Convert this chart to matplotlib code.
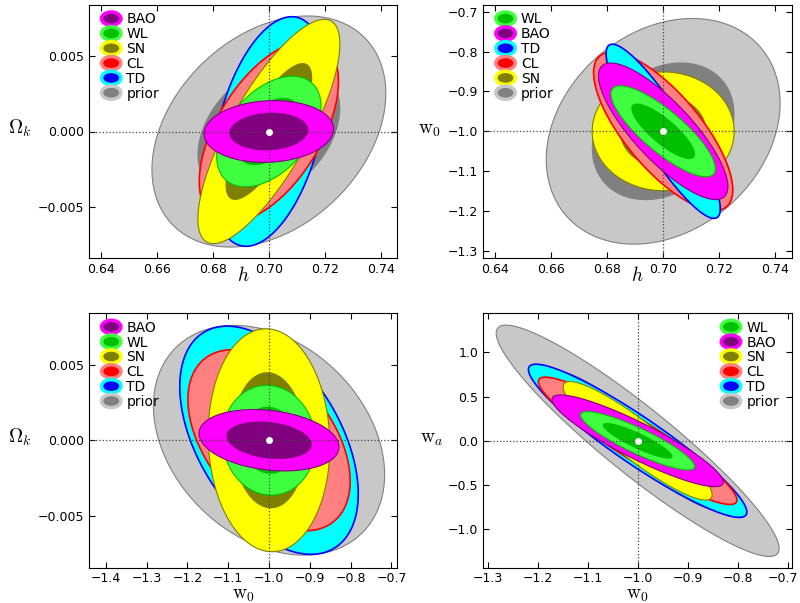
import numpy as np
import matplotlib
matplotlib.use('Agg')
import matplotlib.pyplot as plt
import matplotlib.transforms as mtransforms
from matplotlib.patches import Ellipse
from matplotlib.legend_handler import HandlerPatch

plt.rcParams['mathtext.fontset'] = 'cm'

# fiducial model
fid_h = 0.70
fid_ok = 0.0
fid_w0 = -1.0
fid_wa = 0.0

# marginal 1-sigma errors per probe
probes = ['prior', 'TD', 'CL', 'SN', 'WL', 'BAO']
sig_h = [0.0168, 0.0082, 0.0100, 0.0102, 0.0075, 0.0093]
sig_ok = [0.00307, 0.00305, 0.00242, 0.00298, 0.00147, 0.00082]
sig_w0 = [0.114, 0.088, 0.080, 0.060, 0.046, 0.069]
sig_wa = [0.527, 0.349, 0.290, 0.270, 0.133, 0.209]

# correlation coefficients for each pair of parameters
rho_h_ok = [0.33, 0.40, 0.55, 0.78, 0.45, 0.08]
rho_h_w0 = [0.25, -0.89, -0.74, 0.0, -0.82, -0.81]
rho_w0_ok = [-0.30, -0.47, -0.45, -0.05, -0.05, -0.22]
rho_w0_wa = [-0.93, -0.93, -0.93, -0.91, -0.88, -0.90]

# legend order in each panel (drawn in reverse)
order_1 = ['BAO', 'WL', 'SN', 'CL', 'TD', 'prior']
order_2 = ['WL', 'BAO', 'TD', 'CL', 'SN', 'prior']
order_3 = ['BAO', 'WL', 'SN', 'CL', 'TD', 'prior']
order_4 = ['WL', 'BAO', 'SN', 'CL', 'TD', 'prior']

colors = {
    'prior': ('#c8c8c8', '#808080', '#808080'),
    'TD': ('#00ffff', '#0000ff', '#0000ff'),
    'CL': ('#ff8080', '#ff0000', '#ff0000'),
    'SN': ('#ffff00', '#808000', '#808000'),
    'WL': ('#40ff40', '#00c000', '#00c000'),
    'BAO': ('#ff00ff', '#800080', '#800080'),
}

k1 = np.sqrt(2.30)
k2 = np.sqrt(6.17)


def ellipse_xy(cx, cy, sx, sy, rho, k):
    t = np.linspace(0, 2 * np.pi, 300)
    x = cx + k * sx * np.cos(t)
    y = cy + k * sy * (rho * np.cos(t) + np.sqrt(1 - rho ** 2) * np.sin(t))
    return x, y


def make_ell(legend, orig_handle, xdescent, ydescent, width, height, fontsize):
    return Ellipse((width / 2 - xdescent, height / 2 - ydescent), width, height * 1.35)


def fmt(v, f):
    return (f % v).replace('-', '\u2212')


def panel(rect, cx, cy, sx, sy, rho, order, xlim, ylim, xticks, yticks,
          xlabel, ylabel, xlab_y, ylab_x, yfmt, legloc):
    ax = fig.add_axes(rect)
    for name in order[::-1]:
        i = probes.index(name)
        fc, ic, ec = colors[name]
        lw = 1.2 if name in ('TD', 'CL') else 0.8
        x, y = ellipse_xy(cx, cy, sx[i], sy[i], rho[i], k2)
        ax.fill(x, y, facecolor=fc, edgecolor=ec, linewidth=lw)
        x, y = ellipse_xy(cx, cy, sx[i], sy[i], rho[i], k1)
        ax.fill(x, y, facecolor=ic, edgecolor='none')
    ax.axvline(cx, color='#444444', linestyle=':', linewidth=0.9, zorder=5)
    ax.axhline(cy, color='#444444', linestyle=':', linewidth=0.9, zorder=5)
    ax.plot([cx], [cy], 'o', color='white', markersize=4, zorder=6)

    ax.set_xlim(xlim)
    ax.set_ylim(ylim)
    ax.set_xticks(xticks)
    ax.set_yticks(yticks)
    ax.set_yticklabels([fmt(v, yfmt) for v in yticks])
    ax.tick_params(direction='in', top=True, right=True, length=4, labelsize=9)
    ax.set_xlabel(xlabel, fontsize=14)
    ax.xaxis.set_label_coords(0.5, xlab_y)
    ax.set_ylabel(ylabel, fontsize=14, rotation=0)
    ax.yaxis.set_label_coords(ylab_x, 0.47)

    handles = []
    for name in order:
        fc, ic, ec = colors[name]
        handles.append(Ellipse((0, 0), 1, 1, facecolor=ic, edgecolor=fc, linewidth=2.5))
    anchor = (0, 1.02) if legloc == 'upper left' else (1, 1.02)
    ax.legend(handles, order, loc=legloc, bbox_to_anchor=anchor, frameon=False,
              fontsize=10, handlelength=1.4, handletextpad=0.4, labelspacing=0.06,
              borderaxespad=0.5,
              handler_map={Ellipse: HandlerPatch(patch_func=make_ell)})
    return ax


fig = plt.figure(figsize=(8, 6.03), dpi=100)

top_b = 1 - 258 / 603
bot_b = 1 - 567.5 / 603
w = 308.2 / 800

panel([89 / 800, top_b, w, 253 / 603], fid_h, fid_ok, sig_h, sig_ok, rho_h_ok, order_1,
      (0.6358, 0.7458), (-0.00835, 0.00835), np.arange(0.64, 0.7401, 0.02),
      [-0.005, 0.0, 0.005], r'$h$', r'$\Omega_k$', -0.03, -0.225, '%.3f', 'upper left')

panel([483.3 / 800, top_b, w, 253 / 603], fid_h, fid_w0, sig_h, sig_w0, rho_h_w0, order_2,
      (0.6358, 0.7458), (-1.318, -0.683), np.arange(0.64, 0.7401, 0.02),
      np.arange(-1.3, -0.69, 0.1), r'$h$', r'$\mathrm{w}_0$', -0.03, -0.175, '%.1f', 'upper left')

panel([89 / 800, bot_b, w, 254.2 / 603], fid_w0, fid_ok, sig_w0, sig_ok, rho_w0_ok, order_3,
      (-1.441, -0.686), (-0.00845, 0.00843), np.arange(-1.4, -0.69, 0.1),
      [-0.005, 0.0, 0.005], r'$\mathrm{w}_0$', r'$\Omega_k$', -0.068, -0.225, '%.3f', 'upper left')

ax4 = panel([483.3 / 800, bot_b, w, 254.2 / 603], fid_w0, fid_wa, sig_w0, sig_wa, rho_w0_wa,
            order_4, (-1.309, -0.692), (-1.434, 1.443), np.arange(-1.3, -0.69, 0.1),
            [-1.0, -0.5, 0.0, 0.5, 1.0], r'$\mathrm{w}_0$', r'$\mathrm{w}_a$', -0.068, -0.168,
            '%.1f', 'upper right')

# nudge the last tick label so it stays inside the figure
last = ax4.get_xticklabels()[-1]
last.set_transform(last.get_transform() +
                   mtransforms.ScaledTranslation(-3 / 72, 0, fig.dpi_scale_trans))

fig.savefig('out.png', dpi=100)
